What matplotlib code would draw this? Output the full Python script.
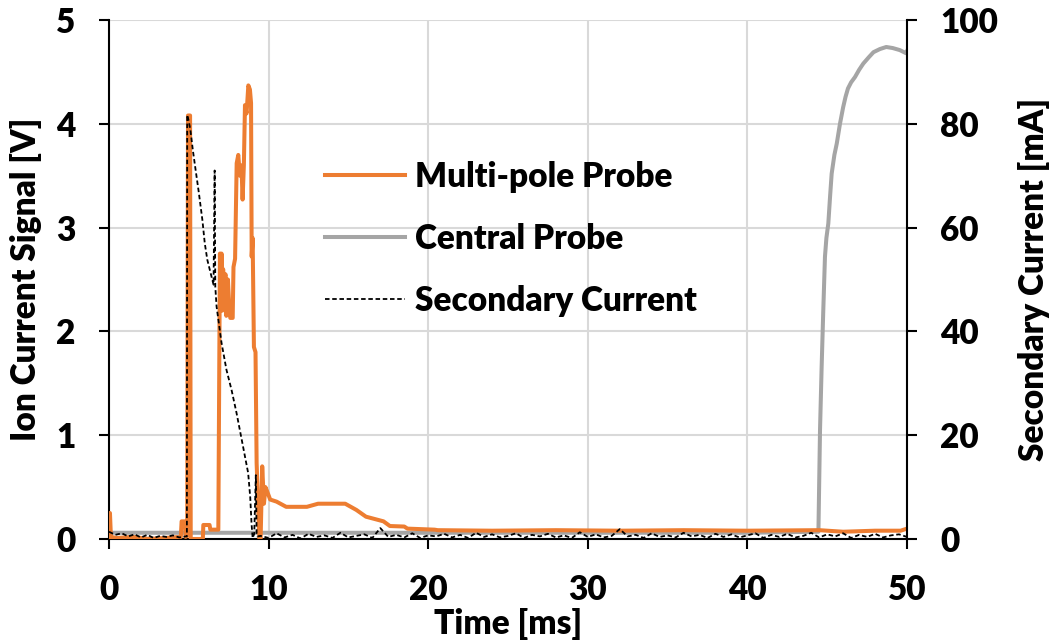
import matplotlib

matplotlib.use("Agg")

import matplotlib.pyplot as plt
import numpy as np
from matplotlib.lines import Line2D

ORANGE = "#ED7D31"
GRAY = "#A5A5A5"
GRID = "#D9D9D9"

# multi-pole probe, ion current signal [V] vs time [ms]
multipole_t = [
    0.0, 0.03, 0.06, 0.12, 0.5, 1.5, 2.5, 3.5, 4.5, 4.55, 4.76, 4.8, 4.9, 4.95, 5.08, 5.12,
    5.5, 5.88, 5.91, 6.3, 6.35, 6.85, 6.95, 7.0, 7.05, 7.1, 7.15, 7.2, 7.3, 7.35, 7.45,
    7.55, 7.6, 7.75, 7.8, 7.9, 8.0, 8.1, 8.2, 8.3, 8.37, 8.45, 8.52, 8.62, 8.73, 8.83,
    8.9, 8.94, 9.0, 9.08, 9.18, 9.25, 9.42, 9.5, 9.6, 9.71, 9.8, 9.88, 10.1, 10.5,
    11.1, 12.4, 13.1, 14.8, 15.5, 16.1, 17.2, 17.6, 18.5, 18.7, 20.4, 20.6, 24.0,
    28.0, 32.0, 36.0, 40.0, 44.5, 46.0, 48.0, 49.6, 50.0,
]
multipole_v = [
    0.02, 0.25, 0.25, 0.02, 0.01, 0.02, 0.0, 0.01, 0.02, 0.17, 0.17, 0.02, 0.03, 4.08, 4.08, 0.0,
    0.0, 0.0, 0.135, 0.135, 0.09, 0.09, 2.75, 2.3, 2.75, 2.2, 2.6, 2.45, 2.55, 2.15, 2.5,
    2.2, 2.13, 2.13, 2.62, 2.7, 3.62, 3.7, 3.5, 3.6, 3.27, 3.6, 4.18, 4.1, 4.37, 4.33,
    4.2, 2.72, 2.9, 1.85, 1.8, 0.73, 0.0, 0.0, 0.70, 0.34, 0.5, 0.47, 0.38, 0.36,
    0.31, 0.31, 0.34, 0.34, 0.28, 0.215, 0.17, 0.125, 0.12, 0.1, 0.09, 0.085, 0.08,
    0.085, 0.08, 0.085, 0.08, 0.085, 0.07, 0.08, 0.08, 0.1,
]

# central probe, ion current signal [V]
central_t = [
    0.0, 10.0, 20.0, 30.0, 40.0, 44.45, 44.55, 44.65, 44.75, 44.86, 44.95, 45.07, 45.18,
    45.28, 45.45, 45.6, 45.8, 46.0, 46.15, 46.3, 46.5, 46.74, 47.0, 47.26, 47.6, 47.9,
    48.3, 48.7, 49.1, 49.55, 49.94, 50.0,
]
central_v = [
    0.06, 0.06, 0.06, 0.06, 0.06, 0.07, 1.05, 1.65, 2.18, 2.72, 2.9, 3.04, 3.3,
    3.52, 3.7, 3.81, 4.0, 4.16, 4.26, 4.34, 4.4, 4.45, 4.52, 4.58, 4.64, 4.69,
    4.72, 4.74, 4.73, 4.71, 4.68, 4.7,
]

# secondary current [mA]: pulse between ~5 and ~9 ms
pulse_t = [
    4.88, 4.9, 5.0, 5.1, 5.25, 5.4, 5.63, 5.85, 6.0, 6.16, 6.37, 6.55, 6.62, 6.66,
    6.74, 7.05, 7.36, 7.68, 7.99, 8.4, 8.72, 8.85, 8.93, 9.0, 9.1, 9.2, 9.25, 9.3,
]
pulse_ma = [
    0.5, 81.7, 80.5, 78.8, 75.0, 71.7, 66.7, 61.5, 57.0, 53.8, 51.2, 49.0, 71.0, 48.6,
    44.8, 37.8, 32.6, 28.7, 24.3, 17.8, 12.7, 8.0, 3.0, 0.2, 1.0, 12.3, 1.0, 0.5,
]
# baseline noise before the pulse (0-4.8 ms, 0.4 ms steps)
pre_ma = [1.4, 0.8, 1.1, 0.5, 0.9, 0.3, 0.8, 0.2, 0.6, 0.4, 0.7, 0.3, 0.5]
# baseline noise after the pulse (9.5-50 ms, 0.5 ms steps)
post_ma = [
    0.6, 0.2, 1.1, 0.3, 0.8, 0.1, 1.0, 0.4, 0.7, 0.2, 1.2, 0.3, 0.6, 0.9, 0.2, 2.1,
    0.4, 0.8, 0.3, 1.1, 0.2, 0.7, 0.5, 1.0, 0.3, 0.8, 0.2, 1.2, 0.4, 0.9, 0.3, 0.6,
    1.1, 0.2, 0.8, 0.5, 1.0, 0.3, 0.7, 0.2, 1.3, 0.4, 0.9, 0.3, 0.6, 1.9, 0.5, 0.8,
    0.2, 1.1, 0.4, 0.7, 0.3, 1.2, 0.5, 0.8, 0.2, 1.0, 0.4, 0.9, 0.3, 0.7, 1.1, 0.2,
    0.8, 0.4, 1.0, 0.3, 0.6, 1.2, 0.3, 0.9, 0.5, 1.1, 0.2, 0.8, 0.4, 1.0, 0.3, 0.7,
    0.9, 0.4,
]

x_ticks = [0, 10, 20, 30, 40, 50]
left_ticks = [0, 1, 2, 3, 4, 5]
right_ticks = [0, 20, 40, 60, 80, 100]

pre_t = np.arange(len(pre_ma)) * 0.4
post_t = 9.5 + np.arange(len(post_ma)) * 0.5
secondary_t = np.concatenate([pre_t, pulse_t, post_t])
secondary_ma = np.concatenate([pre_ma, pulse_ma, post_ma])

plt.rcParams["font.family"] = ["Lato", "DejaVu Sans"]
plt.rcParams["font.weight"] = "heavy"
FS = 24
W = "heavy"

fig = plt.figure(figsize=(10.56, 6.44), dpi=100)
ax = fig.add_axes((109 / 1056, 105 / 644, 798 / 1056, 519 / 644))
ax2 = ax.twinx()

ax.plot(multipole_t, multipole_v, color=ORANGE, lw=2.9, solid_joinstyle="round", zorder=3)
ax.plot(central_t, central_v, color=GRAY, lw=2.9, solid_joinstyle="round", zorder=2)
ax2.plot(secondary_t, secondary_ma, color="black", lw=1.3, ls=(0, (2.5, 1.5)), zorder=4)

ax.set_xlim(0, 50)
ax.set_ylim(0, 5)
ax2.set_ylim(0, 100)
ax.set_xticks(x_ticks)
ax.set_yticks(left_ticks)
ax2.set_yticks(right_ticks)

ax.grid(True, color=GRID, lw=1.5)
ax.set_axisbelow(True)
for s in ("top", "right"):
    ax.spines[s].set_visible(False)
ax2.spines["top"].set_visible(False)
ax2.spines["left"].set_visible(False)
ax2.spines["bottom"].set_visible(False)
for sp in (ax.spines["left"], ax.spines["bottom"], ax2.spines["right"]):
    sp.set_linewidth(1.5)

ax.tick_params(axis="both", labelsize=FS, width=1.5, length=7, pad=17)
ax.tick_params(axis="x", pad=18)
ax2.tick_params(axis="y", labelsize=FS, width=1.5, length=7, pad=17)

ax.set_xlabel("Time [ms]", fontsize=FS, fontweight=W, labelpad=2)
ax.set_ylabel("Ion Current Signal [V]", fontsize=FS, fontweight=W, labelpad=10)
ax2.set_ylabel("Secondary Current [mA]", fontsize=FS, fontweight=W, labelpad=14)

handles = [
    Line2D([], [], color=ORANGE, lw=2.9),
    Line2D([], [], color=GRAY, lw=2.9),
    Line2D([], [], color="black", lw=1.3, ls=(0, (2.5, 1.5))),
]
labels = ["Multi-pole Probe", "Central Probe", "Secondary Current"]
ax2.legend(handles, labels, loc="upper left", bbox_to_anchor=(0.233, 0.787),
           frameon=False, fontsize=FS, handlelength=2.4, handletextpad=0.3,
           labelspacing=0.9)

fig.savefig("out.png", dpi=100)
